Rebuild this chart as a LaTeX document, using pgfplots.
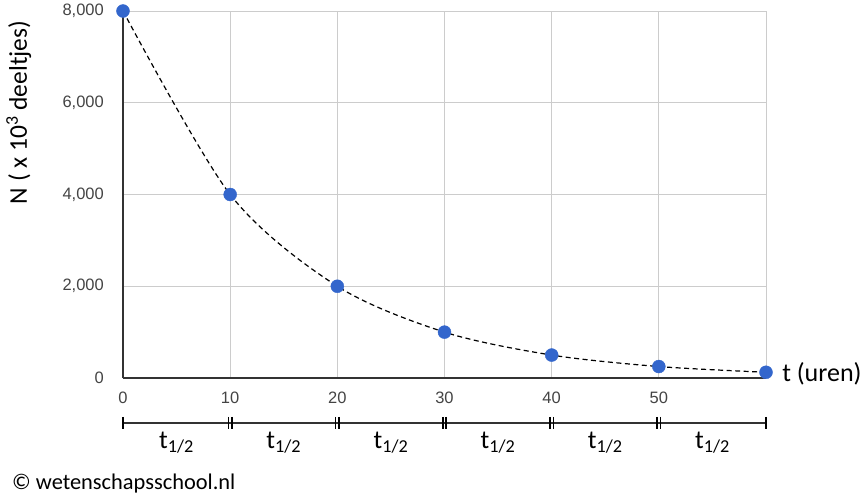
\documentclass[border=0pt]{standalone}
\usepackage{fontspec}
\setmainfont{Carlito}
\newfontfamily\arialfont{Liberation Sans}
\usepackage{pgfplots}
\pgfplotsset{compat=1.18}
\definecolor{ptblue}{HTML}{3366CC}
\definecolor{gridgray}{HTML}{CCCCCC}
\definecolor{ticklab}{HTML}{444444}
\definecolor{axisdark}{HTML}{333333}
\begin{document}
\begin{tikzpicture}
\useasboundingbox (-123pt,-125pt) rectangle (744pt,378pt);
\begin{axis}[
  at={(0pt,0pt)}, anchor=south west,
  scale only axis, width=643pt, height=367pt,
  xmin=0, xmax=60, ymin=0, ymax=8000,
  xtick={0,10,20,30,40,50,60}, xticklabels={0,10,20,30,40,50,{}},
  ytick={0,2000,4000,6000,8000},
  grid=major, grid style={gridgray, line width=1pt},
  major tick length=0pt,
  axis lines*=left,
  axis line style={axisdark, line width=1.3pt},
  /pgf/number format/1000 sep={,},
  /pgf/number format/assume math mode=true,
  tick label style={font=\arialfont\fontsize{16.5}{19}\selectfont, text=ticklab, inner sep=0pt},
  xticklabel style={anchor=north, yshift=-14pt},
  yticklabel style={anchor=east, xshift=-19pt},
  clip=false,
]
\addplot[black, smooth, line width=1.2pt, dash pattern=on 5pt off 3.5pt, mark=none]
  coordinates {(0,8000)(10,4000)(20,2000)(30,1000)(40,500)(50,250)(60,125)};
\addplot[only marks, mark=*, mark size=6.5pt, color=ptblue, mark options={draw=ptblue, fill=ptblue}]
  coordinates {(0,8000)(10,4000)(20,2000)(30,1000)(40,500)(50,250)(60,125)};

% half-life brackets
\draw[axisdark, line width=1.3pt] (axis cs:0,-981) -- (axis cs:60,-981);
\draw[black, line width=1.6pt] (axis cs:0,-850) -- (axis cs:0,-1112);
\draw[black, line width=1.6pt] (axis cs:60,-850) -- (axis cs:60,-1112);
\draw[black, line width=1.6pt] (axis cs:9.84,-850) -- (axis cs:9.84,-1112);
\draw[black, line width=1.6pt] (axis cs:10.16,-850) -- (axis cs:10.16,-1112);
\draw[black, line width=1.6pt] (axis cs:19.84,-850) -- (axis cs:19.84,-1112);
\draw[black, line width=1.6pt] (axis cs:20.16,-850) -- (axis cs:20.16,-1112);
\draw[black, line width=1.6pt] (axis cs:29.84,-850) -- (axis cs:29.84,-1112);
\draw[black, line width=1.6pt] (axis cs:30.16,-850) -- (axis cs:30.16,-1112);
\draw[black, line width=1.6pt] (axis cs:39.84,-850) -- (axis cs:39.84,-1112);
\draw[black, line width=1.6pt] (axis cs:40.16,-850) -- (axis cs:40.16,-1112);
\draw[black, line width=1.6pt] (axis cs:49.84,-850) -- (axis cs:49.84,-1112);
\draw[black, line width=1.6pt] (axis cs:50.16,-850) -- (axis cs:50.16,-1112);

\node[anchor=base, inner sep=0pt, font=\fontsize{26}{30}\selectfont] at (axis cs:5,-1526) {t\textsubscript{1/2}};
\node[anchor=base, inner sep=0pt, font=\fontsize{26}{30}\selectfont] at (axis cs:15,-1526) {t\textsubscript{1/2}};
\node[anchor=base, inner sep=0pt, font=\fontsize{26}{30}\selectfont] at (axis cs:25,-1526) {t\textsubscript{1/2}};
\node[anchor=base, inner sep=0pt, font=\fontsize{26}{30}\selectfont] at (axis cs:35,-1526) {t\textsubscript{1/2}};
\node[anchor=base, inner sep=0pt, font=\fontsize{26}{30}\selectfont] at (axis cs:45,-1526) {t\textsubscript{1/2}};
\node[anchor=base, inner sep=0pt, font=\fontsize{26}{30}\selectfont] at (axis cs:55,-1526) {t\textsubscript{1/2}};

\node[rotate=90, anchor=base, inner sep=0pt, font=\fontsize{25.5}{30}\selectfont] at (axis cs:-8.96,5787) {N ( x 10\textsuperscript{3} deeltjes)};
\node[anchor=base west, inner sep=0pt, font=\fontsize{26}{30}\selectfont] at (axis cs:61.5,-87) {t (uren)};
\node[anchor=base west, inner sep=0pt, font=\fontsize{22.4}{26}\selectfont] at (axis cs:-10.36,-2441) {© wetenschapsschool.nl};
\end{axis}
\end{tikzpicture}
\end{document}
